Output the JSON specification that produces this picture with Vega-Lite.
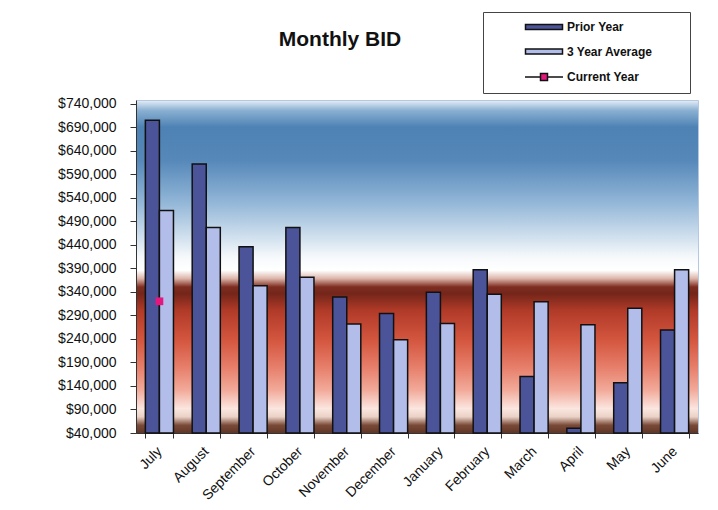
{
  "$schema": "https://vega.github.io/schema/vega-lite/v6.json",
  "width": 562,
  "height": 333,
  "autosize": {"type": "none"},
  "padding": {"left": 136, "top": 100, "right": 20, "bottom": 77},
  "background": "white",
  "title": {
    "text": "Monthly BID",
    "font": "Liberation Sans",
    "fontSize": 21,
    "fontWeight": "bold",
    "color": "#111111",
    "anchor": "middle",
    "dx": -77,
    "offset": -38
  },
  "view": {
    "stroke": "#b4c8e4",
    "strokeWidth": 1,
    "fill": {
      "gradient": "linear",
      "x1": 0, "y1": 0, "x2": 0, "y2": 1,
      "stops": [
        {"offset": 0.0, "color": "#e4edf6"},
        {"offset": 0.03, "color": "#8ab0d2"},
        {"offset": 0.08, "color": "#4e82b4"},
        {"offset": 0.18, "color": "#5688b9"},
        {"offset": 0.3, "color": "#8fb4d6"},
        {"offset": 0.42, "color": "#d6e4f0"},
        {"offset": 0.47, "color": "#f6f9fb"},
        {"offset": 0.51, "color": "#ffffff"},
        {"offset": 0.535, "color": "#dcb4a8"},
        {"offset": 0.56, "color": "#7e2c20"},
        {"offset": 0.58, "color": "#74261a"},
        {"offset": 0.63, "color": "#b03a28"},
        {"offset": 0.72, "color": "#d4563f"},
        {"offset": 0.8, "color": "#e67e6a"},
        {"offset": 0.87, "color": "#f2aa9a"},
        {"offset": 0.925, "color": "#fbe6e0"},
        {"offset": 0.95, "color": "#ead2c6"},
        {"offset": 0.975, "color": "#7a4a38"},
        {"offset": 1.0, "color": "#5e3424"}
      ]
    }
  },
  "data": {
    "values": [
      {"month": "July", "series": "Prior Year", "value": 705000},
      {"month": "July", "series": "3 Year Average", "value": 513000},
      {"month": "August", "series": "Prior Year", "value": 612000},
      {"month": "August", "series": "3 Year Average", "value": 477000},
      {"month": "September", "series": "Prior Year", "value": 436000},
      {"month": "September", "series": "3 Year Average", "value": 353000},
      {"month": "October", "series": "Prior Year", "value": 477000},
      {"month": "October", "series": "3 Year Average", "value": 371000},
      {"month": "November", "series": "Prior Year", "value": 329000},
      {"month": "November", "series": "3 Year Average", "value": 272000},
      {"month": "December", "series": "Prior Year", "value": 294000},
      {"month": "December", "series": "3 Year Average", "value": 238000},
      {"month": "January", "series": "Prior Year", "value": 339000},
      {"month": "January", "series": "3 Year Average", "value": 273000},
      {"month": "February", "series": "Prior Year", "value": 387000},
      {"month": "February", "series": "3 Year Average", "value": 335000},
      {"month": "March", "series": "Prior Year", "value": 160000},
      {"month": "March", "series": "3 Year Average", "value": 319000},
      {"month": "April", "series": "Prior Year", "value": 50000},
      {"month": "April", "series": "3 Year Average", "value": 270000},
      {"month": "May", "series": "Prior Year", "value": 147000},
      {"month": "May", "series": "3 Year Average", "value": 305000},
      {"month": "June", "series": "Prior Year", "value": 259000},
      {"month": "June", "series": "3 Year Average", "value": 387000},
      {"month": "July", "series": "Current Year", "value": 320000}
    ]
  },
  "encoding": {
    "x": {
      "field": "month",
      "type": "nominal",
      "sort": ["July", "August", "September", "October", "November", "December", "January", "February", "March", "April", "May", "June"],
      "scale": {"paddingInner": 0.4, "paddingOuter": 0.2},
      "axis": {
        "title": null,
        "tickBand": "extent",
        "labelAngle": -45,
        "labelAlign": "right",
        "labelBaseline": "middle",
        "labelPadding": 11,
        "labelFont": "Liberation Sans",
        "labelFontSize": 14,
        "labelColor": "#111111",
        "tickColor": "#333333",
        "tickSize": 5,
        "domainColor": "#333333"
      }
    },
    "y": {
      "field": "value",
      "type": "quantitative",
      "scale": {"domain": [40000, 748000], "nice": false, "zero": false},
      "axis": {
        "title": null,
        "values": [40000, 90000, 140000, 190000, 240000, 290000, 340000, 390000, 440000, 490000, 540000, 590000, 640000, 690000, 740000],
        "format": "$,.0f",
        "grid": false,
        "labelFont": "Liberation Sans",
        "labelFontSize": 14,
        "labelColor": "#111111",
        "labelPadding": 14,
        "tickColor": "#333333",
        "tickSize": 6,
        "domainColor": "#333333"
      }
    }
  },
  "layer": [
    {
      "transform": [{"filter": "datum.series !== 'Current Year'"}],
      "mark": {"type": "bar", "stroke": "#111111", "strokeWidth": 1.5},
      "encoding": {
        "y2": {"datum": 40000},
        "xOffset": {"field": "series", "type": "nominal", "sort": ["Prior Year", "3 Year Average"], "scale": {"paddingInner": 0, "paddingOuter": 0}},
        "fill": {
          "field": "series",
          "type": "nominal",
          "scale": {"domain": ["Prior Year", "3 Year Average", "Current Year"], "range": ["#4b5399", "#b3bdea", "#e4177f"]},
          "legend": {
            "title": null,
            "orient": "none",
            "legendX": 347,
            "legendY": -88,
            "padding": 9,
            "fillColor": "white",
            "strokeColor": "#444444",
            "rowPadding": 12.5,
            "symbolSize": 100,
            "symbolOffset": 46,
            "labelOffset": 17,
            "symbolStrokeColor": "#111111",
            "symbolStrokeWidth": 1.5,
            "labelFont": "Liberation Sans",
            "labelFontSize": 12,
            "labelFontWeight": "bold",
            "labelColor": "#111111",
            "encode": {
              "symbols": {
                "update": {
                  "shape": {"signal": "datum.value === 'Current Year' ? 'M-3.8,0H-0.7M0.7,0H3.8M-0.7,-0.7H0.7V0.7H-0.7ZM26.8,0' : 'M-3.7,-0.5H3.7V0.5H-3.7ZM26.8,0'"}
                }
              }
            }
          }
        }
      }
    },
    {
      "transform": [{"filter": "datum.series === 'Current Year'"}],
      "mark": {"type": "point", "shape": "square", "filled": true, "size": 60, "opacity": 1},
      "encoding": {
        "fill": {"field": "series", "type": "nominal"}
      }
    }
  ]
}
